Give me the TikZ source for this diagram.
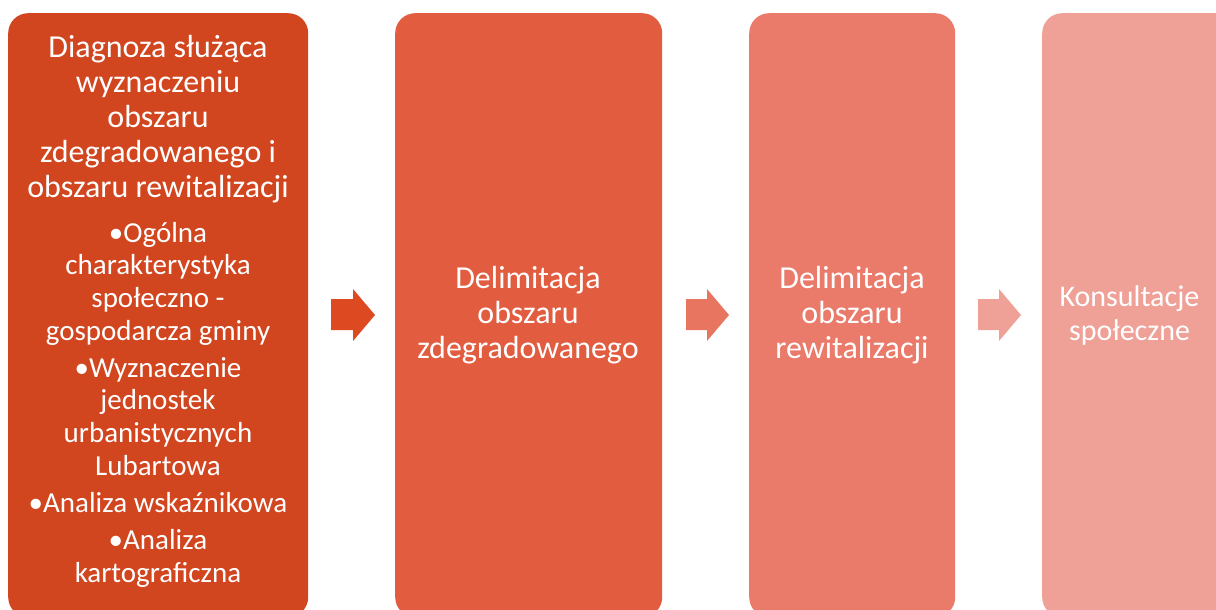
\documentclass[tikz,border=0pt]{standalone}
\usepackage{fontspec}
\setmainfont{Carlito}
\definecolor{cA}{HTML}{D1451F}
\definecolor{cB}{HTML}{E25C3F}
\definecolor{cC}{HTML}{EA7A6A}
\definecolor{cD}{HTML}{EFA097}
\definecolor{aA}{HTML}{DD4A22}
\definecolor{aB}{HTML}{E8755F}
\definecolor{aC}{HTML}{EFA097}
\begin{document}
\begin{tikzpicture}[x=1pt,y=-1pt,
  box/.style={draw=none, rounded corners=20pt, inner sep=0pt, anchor=north west},
  big/.style={text=white, font=\fontsize{32}{34.8}\selectfont, align=center, anchor=base, inner sep=0pt},
  mid/.style={text=white, font=\fontsize{30}{34}\selectfont, align=center, anchor=base, inner sep=0pt},
  small/.style={text=white, font=\fontsize{29}{32.7}\selectfont, align=center, anchor=base, inner sep=0pt}]
\useasboundingbox (0,0) rectangle (1216,610);
\clip (0,0) rectangle (1216,610);
\node[box, fill=cA, minimum width=300pt, minimum height=604pt] (b1) at (8,13) {};
\node[box, fill=cB, minimum width=267pt, minimum height=604pt] (b2) at (395,13) {};
\node[box, fill=cC, minimum width=206pt, minimum height=604pt] (b3) at (749,13) {};
\node[box, fill=cD, minimum width=200pt, minimum height=604pt] (b4) at (1042,13) {};
% arrows
\fill[aA] (331,299) -- (353,299) -- (353,289) -- (375,315) -- (353,341) -- (353,330) -- (331,330) -- cycle;
\fill[aB] (686,299) -- (707,299) -- (707,289) -- (729,315) -- (707,341) -- (707,330) -- (686,330) -- cycle;
\fill[aC] (978,299) -- (999,299) -- (999,289) -- (1021,315) -- (999,341) -- (999,330) -- (978,330) -- cycle;
% texts (anchored at the baseline of the last line)
\node[big] (t1) at (158,197) {Diagnoza służąca\\wyznaczeniu\\obszaru\\zdegradowanego i\\obszaru rewitalizacji};
\node[small] (s1) at (158,582) {•Ogólna\\charakterystyka\\społeczno -\\gospodarcza gminy\\[4.3pt]
•Wyznaczenie\\jednostek\\urbanistycznych\\Lubartowa\\[4.3pt]
•Analiza wskaźnikowa\\[4.3pt]
•Analiza\\kartograficzna};
\node[big] (t2) at (528,358) {Delimitacja\\obszaru\\zdegradowanego};
\node[big] (t3) at (852,358) {Delimitacja\\obszaru\\rewitalizacji};
\node[mid] (t4) at (1129.5,340) {Konsultacje\\społeczne};
\end{tikzpicture}
\end{document}
